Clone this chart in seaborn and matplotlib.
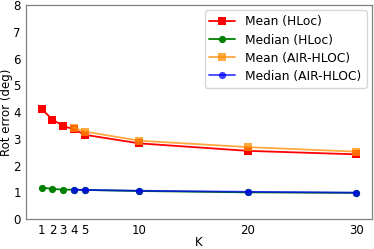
import matplotlib
matplotlib.use("Agg")
import matplotlib.pyplot as plt
import seaborn as sns
import pandas as pd

k_hloc = [1, 2, 3, 4, 5, 10, 20, 30]
mean_hloc = [4.12, 3.72, 3.48, 3.35, 3.15, 2.83, 2.55, 2.42]
median_hloc = [1.18, 1.13, 1.10, 1.10, 1.09, 1.05, 1.00, 0.98]
k_air = [4, 5, 10, 20, 30]
mean_air = [3.42, 3.27, 2.93, 2.69, 2.52]
median_air = [1.10, 1.09, 1.06, 1.02, 0.99]
xticks = [1, 2, 3, 4, 5, 10, 20, 30]
yticks = [0, 1, 2, 3, 4, 5, 6, 7, 8]

sns.set_style("white")
plt.rcParams['font.family'] = ['DejaVu Sans']
plt.rcParams['text.color'] = 'black'
plt.rcParams['axes.labelcolor'] = 'black'

fig = plt.figure(figsize=(3.74, 2.49), dpi=100)
ax = fig.add_axes([0.069, 0.12, 0.926, 0.86])

series = [
    (k_hloc, mean_hloc, "Mean (HLoc)", "red", "s", 1.0),
    (k_hloc, median_hloc, "Median (HLoc)", "green", "o", 1.0),
    (k_air, mean_air, "Mean (AIR-HLOC)", "darkorange", "s", 0.75),
    (k_air, median_air, "Median (AIR-HLOC)", "blue", "o", 0.75),
]
for xs, ys, lab, col, mk, a in series:
    df = pd.DataFrame({"K": xs, "v": ys})
    sns.lineplot(data=df, x="K", y="v", ax=ax, color=col, marker=mk,
                 markersize=5.2, linewidth=1.3, label=lab, alpha=a,
                 markeredgewidth=0)

ax.set_xticks(xticks)
ax.set_yticks(yticks)
ax.set_ylim(0, 8)
ax.set_xlim(-0.45, 31.45)
ax.tick_params(labelsize=8.5, length=2, color="#808080", labelcolor="black",
               pad=1.5)
ax.set_xlabel("K", fontsize=8.5, labelpad=-1)
ax.set_ylabel("Rot error (deg)", fontsize=8.5, labelpad=0.5)
for s in ax.spines.values():
    s.set_color("#808080")
    s.set_linewidth(0.9)
ax.legend(loc="upper right", fontsize=8.8, frameon=True, handlelength=2.1,
          borderpad=0.4, labelspacing=0.42, handletextpad=0.85,
          borderaxespad=0.45)
fig.savefig("out.png", dpi=100)
